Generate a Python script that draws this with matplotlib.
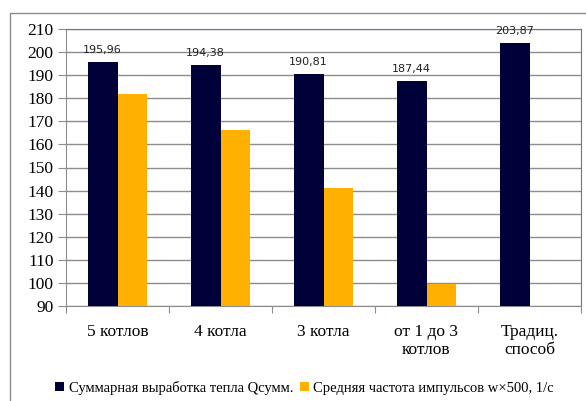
import matplotlib.pyplot as plt
from matplotlib.patches import Rectangle
import numpy as np

categories = ["5 котлов", "4 котла", "3 котла", "от 1 до 3\nкотлов", "Традиц.\nспособ"]
q_sum = [195.96, 194.38, 190.81, 187.44, 203.87]
freq = [182.0, 166.4, 141.0, 99.4, 0.0]
q_labels = ["195,96", "194,38", "190,81", "187,44", "203,87"]
series_names = ["Суммарная выработка тепла Qсумм.", "Средняя частота импульсов w×500, 1/с"]

dark = "#000038"
orange = "#FFB000"
serif = "Liberation Serif"

fig = plt.figure(figsize=(5.86, 4.01), dpi=100)
ax = fig.add_axes([66/586, 1 - 305.7/401, (581 - 66)/586, (305.7 - 29.3)/401])

# outer chart frame (gray)
fig.patches.append(Rectangle((10/586, -0.1), 1.2, 1 - 13/401 + 0.1, transform=fig.transFigure,
                             fill=False, edgecolor="#8c8c8c", linewidth=1.0))

x = np.arange(len(categories))
w = 0.29
b1 = ax.bar(x - w/2, [v - 90 for v in q_sum], w, bottom=90, color=dark, label=series_names[0], zorder=3)
b2 = ax.bar(x + w/2, [max(v - 90, 0) for v in freq], w, bottom=90, color=orange, label=series_names[1], zorder=3)

for xi, v, s in zip(x, q_sum, q_labels):
    ax.annotate(s, (xi - w/2, v), xytext=(0, 5), textcoords="offset points",
                ha="center", va="bottom", fontsize=8, family="DejaVu Sans", color="#222222")

ax.set_ylim(90, 210)
ax.set_xlim(-0.5, len(categories) - 0.5)
ax.set_yticks(np.arange(90, 211, 10))
ax.yaxis.grid(True, color="#8c8c8c", linewidth=1.0, zorder=0)
ax.set_axisbelow(True)

ax.set_xticks(np.arange(-0.5, len(categories)), [""] * (len(categories) + 1))
ax.set_xticks(x, categories, minor=True)
ax.tick_params(axis="x", which="major", length=5, color="#8c8c8c", direction="out")
ax.tick_params(axis="x", which="minor", length=0, pad=13, labelsize=12.5)
ax.tick_params(axis="y", length=6, color="#8c8c8c", pad=3, labelsize=12.5)
for lab in ax.get_xticklabels(minor=True) + ax.get_yticklabels():
    lab.set_family(serif)
    lab.set_linespacing(1.2)

for side in ("left", "bottom"):
    ax.spines[side].set_color("#8c8c8c")
for side in ("top", "right"):
    ax.spines[side].set_color("#4a7ebb")

fig.legend(handles=[b1, b2], loc="center", bbox_to_anchor=(0.52, 0.033), ncol=2, frameon=False,
           prop={"family": serif, "size": 10.5}, handlelength=0.6, handleheight=0.6,
           handletextpad=0.3, columnspacing=0.5)

fig.savefig("out.png", dpi=100)
